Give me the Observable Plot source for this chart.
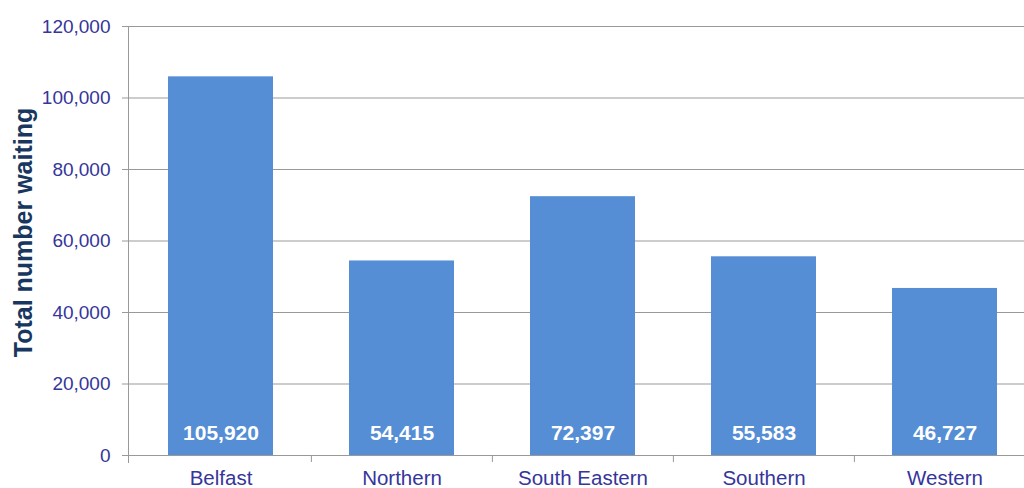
<!DOCTYPE html>
<html>
<head>
<meta charset="utf-8">
<script src="https://cdn.jsdelivr.net/npm/d3@7"></script>
<script src="https://cdn.jsdelivr.net/npm/@observablehq/plot@0.6"></script>
<style>
  html, body { margin: 0; padding: 0; background: #fff; overflow: hidden; }
  #chart svg { display: block; font-family: "Liberation Sans", Arial, sans-serif; }
</style>
</head>
<body>
<div id="chart"></div>
<script>
const regions = ["Belfast", "Northern", "South Eastern", "Southern", "Western"];
const waiting = [105920, 54415, 72397, 55583, 46727];
const yTicks = [0, 20000, 40000, 60000, 80000, 100000, 120000];
const yTitle = "Total number waiting";

const data = regions.map((r, i) => ({region: r, value: waiting[i]}));
const fmt = d3.format(",");

const W = 1024, H = 488;
const xRange = [129, 1035];
const step = (xRange[1] - xRange[0]) / regions.length;
const axisColor = "#999999";
const textColor = "#35359a";

const chart = Plot.plot({
  width: W,
  height: H,
  marginLeft: 128,
  marginRight: 0,
  marginTop: 26,
  marginBottom: 33,
  style: {fontFamily: "'Liberation Sans', Arial, sans-serif", fontSize: "19px", background: "#fff"},
  x: {domain: regions, range: xRange, paddingInner: 0.42, paddingOuter: 0.21, label: null},
  y: {domain: [0, 120000], label: null},
  marks: [
    Plot.gridY(yTicks, {stroke: axisColor, strokeOpacity: 1, strokeWidth: 1}),
    Plot.frame({anchor: "left", stroke: axisColor, strokeWidth: 1, insetBottom: -7}),
    Plot.ruleX(regions.slice(1), {x: d => d, y1: 0, y2: 0, dx: -step / 2, insetBottom: -7, stroke: axisColor}),
    Plot.barY(data, {x: "region", y: "value", fill: "#558ed5"}),
    Plot.text(data, {x: "region", y: 0, text: d => fmt(d.value), fill: "white", fontWeight: "bold", fontSize: 21, dy: -22, lineAnchor: "middle"}),
    Plot.axisY(yTicks, {tickSize: 6, tickPadding: 12, tickFormat: fmt, fontSize: 19, color: textColor, stroke: axisColor, label: null}),
    Plot.axisX({tickSize: 0, tickPadding: 15, fontSize: 20.5, color: textColor, label: null}),
    Plot.text([yTitle], {frameAnchor: "left", rotate: -90, dx: -105, dy: -8.5, textAnchor: "middle", fontSize: 25, fontWeight: "bold", fill: "#17375e", lineAnchor: "middle"})
  ]
});
document.getElementById("chart").appendChild(chart);
</script>
</body>
</html>
